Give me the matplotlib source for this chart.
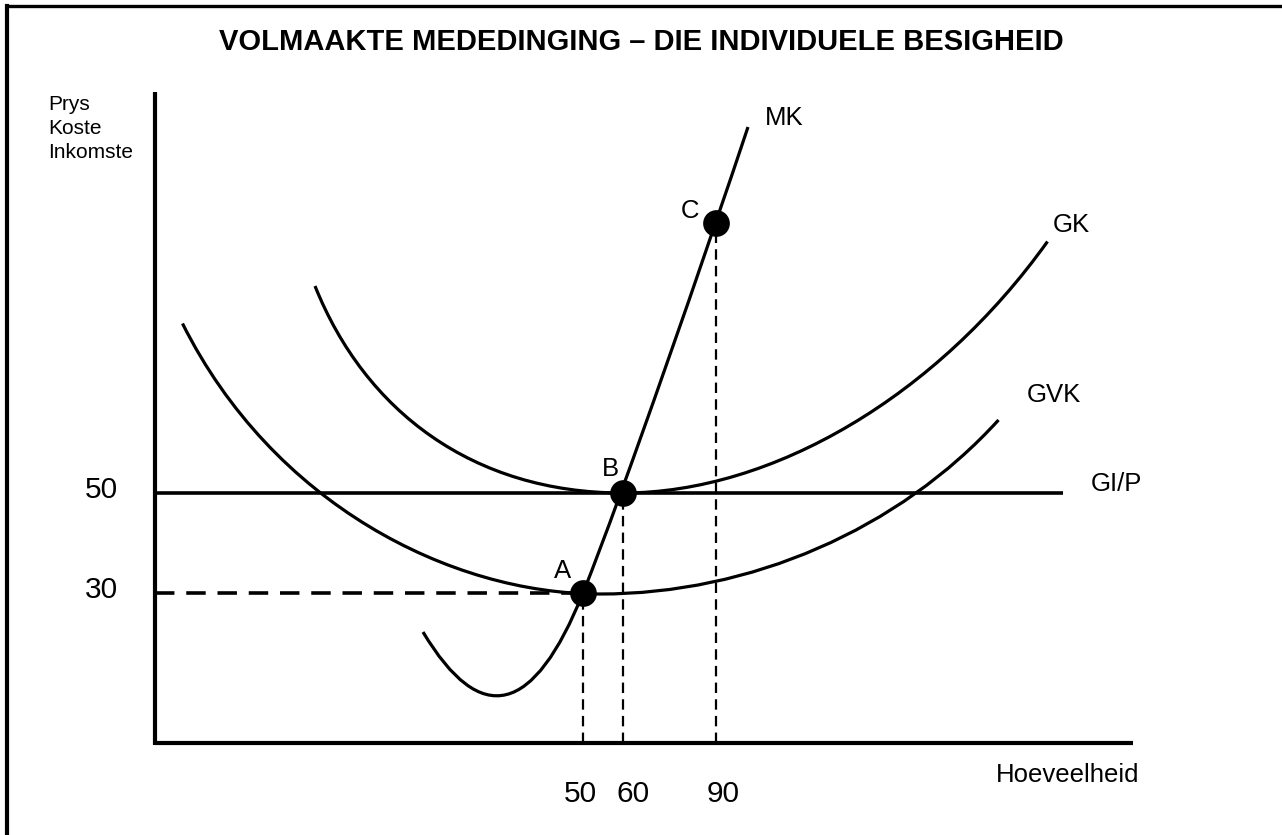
import matplotlib
matplotlib.use("Agg")
import matplotlib.pyplot as plt
from matplotlib.path import Path
from matplotlib.patches import PathPatch
from matplotlib.lines import Line2D

plt.rcParams['font.family'] = ['Liberation Sans', 'DejaVu Sans']
plt.rcParams['lines.scale_dashes'] = False

# ---------------- data (diagram units: price axis linear, quantity schematic) -------------
TITLE = "VOLMAAKTE MEDEDINGING – DIE INDIVIDUELE BESIGHEID"
Y_LABEL_LINES = ["Prys", "Koste", "Inkomste"]
X_LABEL = "Hoeveelheid"

PRICE_LEVELS = [50, 30]
PRICE_LABELS = ["50", "30"]
QUANTITY_LABELS = ["50", "60", "90"]

POINT_NAMES = ["A", "B", "C"]
POINT_X = [85.6, 93.6, 112.2]      # schematic positions of Q = 50, 60, 90
POINT_Y = [30, 50, 104]

GIP_PRICE = 50
GIP_END = 181.6

# Bezier control points for the cost curves
MK_PTS = [(53.6, 22.2), (70.9, -6.76), (85.6, 30.0),
          (93.6, 50.0), (110.6, 99.2), (118.6, 123.2)]
MK_CODES = [Path.MOVETO, Path.CURVE3, Path.CURVE3,
            Path.CURVE4, Path.CURVE4, Path.CURVE4]

GVK_PTS = [(5.5, 83.9), (23.5, 47.9), (59.0, 29.8), (89.0, 29.8),
           (119.0, 29.8), (148.7, 42.6), (168.7, 64.6)]
GK_PTS = [(32.0, 91.4), (42.0, 66.4), (63.6, 50.0), (93.6, 50.0),
          (123.6, 50.0), (156.5, 69.5), (178.5, 100.3)]
U_CODES = [Path.MOVETO] + [Path.CURVE4] * 6

CURVE_LABELS = ["MK", "GK", "GVK", "GI/P"]

# ---------------- figure -------------
fig = plt.figure(figsize=(12.82, 8.35), dpi=100)
fig.patch.set_facecolor('white')
W, H = 1282, 835
ax = fig.add_axes([155 / W, 92 / H, 1127 / W, 743 / H])
ax.set_xlim(0, 1127 / 5)
ax.set_ylim(0, 743 / 5)
ax.set_xticks([])
ax.set_yticks([])
for s in ['top', 'right']:
    ax.spines[s].set_visible(False)
ax.spines['left'].set_bounds(-0.4, 130.2)
ax.spines['bottom'].set_bounds(0, 195.6)
for s in ['left', 'bottom']:
    ax.spines[s].set_linewidth(3.0)
    ax.spines[s].set_capstyle('butt')

lw = 2.3
# GI/P line
ax.plot([0, GIP_END], [GIP_PRICE, GIP_PRICE], color='black', lw=2.6, solid_capstyle='butt')

# curves
for pts, codes in [(MK_PTS, MK_CODES), (GVK_PTS, U_CODES), (GK_PTS, U_CODES)]:
    ax.add_patch(PathPatch(Path(pts, codes), facecolor='none', edgecolor='black',
                           lw=lw, capstyle='butt'))

# dashed guides
ax.plot([0, POINT_X[0]], [POINT_Y[0], POINT_Y[0]], color='black', lw=2.6,
        dashes=(14, 8.5), solid_capstyle='butt', dash_capstyle='butt')
for px, py in zip(POINT_X, POINT_Y):
    ax.plot([px, px], [0, py], color='black', lw=1.6, dashes=(7.5, 4.5),
            dash_capstyle='butt')

# points
ax.scatter(POINT_X, POINT_Y, s=370, color='black', zorder=5, linewidths=0)

fs = 18.5
# point labels
label_pos = [(81.6, 32.9), (91.1, 53.4), (106.9, 105.1)]
for name, (lx, ly) in zip(POINT_NAMES, label_pos):
    ax.text(lx, ly, name, fontsize=fs, ha='center', va='baseline')

# curve labels
curve_label_pos = [(122.0, 123.6), (179.5, 102.3), (174.3, 68.3), (187.1, 50.4)]
for name, (lx, ly) in zip(CURVE_LABELS, curve_label_pos):
    ax.text(lx, ly, name, fontsize=fs, ha='left', va='baseline')

# price tick labels
for lvl, lab in zip(PRICE_LEVELS, PRICE_LABELS):
    ax.text(-7.4, lvl - 1.1, lab, fontsize=21.5, ha='right', va='baseline')

# quantity tick labels
q_label_x = [85.0, 95.6, 113.6]
for qx, lab in zip(q_label_x, QUANTITY_LABELS):
    ax.text(qx, -11.8, lab, fontsize=21.5, ha='center', va='baseline')

# axis titles
ax.text(168.2, -7.9, X_LABEL, fontsize=18.5, ha='left', va='baseline')
for i, line in enumerate(Y_LABEL_LINES):
    ax.text(-21.3, 126.7 - i * 4.9, line, fontsize=15, ha='left', va='baseline')

# title
fig.text(641 / W, 1 - 50 / H, TITLE, fontsize=21, fontweight='bold',
         ha='center', va='baseline')

# frame (top and left edges)
fig.add_artist(Line2D([7 / W, 1.0], [1 - 5.5 / H, 1 - 5.5 / H], color='black', lw=2.4,
                      transform=fig.transFigure))
fig.add_artist(Line2D([7 / W, 7 / W], [0, 1 - 5.5 / H], color='black', lw=3.0,
                      transform=fig.transFigure, solid_capstyle='projecting'))

fig.savefig("out.png", dpi=100, facecolor='white')
